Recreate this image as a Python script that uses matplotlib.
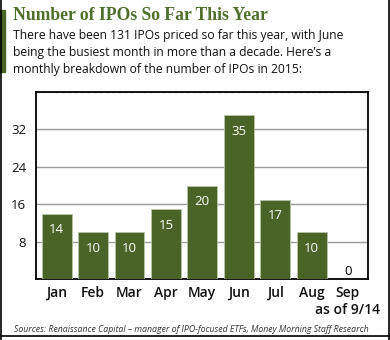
import matplotlib
matplotlib.use("Agg")
import matplotlib.pyplot as plt
from matplotlib.lines import Line2D
from matplotlib.patches import Rectangle

months = ["Jan", "Feb", "Mar", "Apr", "May", "Jun", "Jul", "Aug", "Sep"]
ipos = [14, 10, 10, 15, 20, 35, 17, 10, 0]
yticks = [8, 16, 24, 32]

GREEN = "#4a6428"
TITLE_GREEN = "#4f6f2c"

fig = plt.figure(figsize=(3.9, 3.4), dpi=100)
W, H = 390, 340

def fx(x):
    return x / W

def fy(y):
    return 1 - y / H

# outer frame (left, right, bottom)
fig.add_artist(Line2D([fx(0.5), fx(0.5)], [fy(0), fy(339.5)], color="black", lw=1.2))
fig.add_artist(Line2D([fx(388.5), fx(388.5)], [fy(0), fy(339.5)], color="black", lw=1.2))
fig.add_artist(Line2D([fx(0.5), fx(388.5)], [fy(336), fy(336)], color="black", lw=1.2))
# green side bar
fig.add_artist(Rectangle((fx(0), fy(72)), fx(5), (72 - 10) / H, color=GREEN, transform=fig.transFigure))

fig.text(fx(13), fy(16), "Number of IPOs So Far This Year", family="Liberation Serif",
         weight="bold", fontsize=12.7, color=TITLE_GREEN, va="center", ha="left")
body = ["There have been 131 IPOs priced so far this year, with June",
        "being the busiest month in more than a decade. Here\u2019s a",
        "monthly breakdown of the number of IPOs in 2015:"]
for i, line in enumerate(body):
    fig.text(fx(13), fy(35 + 17.5 * i), line, family="Open Sans", fontsize=8.75,
             color="#111111", va="center", ha="left")

ax = fig.add_axes([fx(36), fy(279), fx(368 - 36), (279 - 92) / H])
x = list(range(len(months)))
bars = ax.bar(x, ipos, width=0.82, color=GREEN, edgecolor="#b9c6a6", linewidth=0.6, zorder=3)
ax.set_xlim(-0.57, 8.55)
ax.set_ylim(0, 40)
ax.set_yticks(yticks)
ax.set_yticklabels([str(v) for v in yticks], family="Open Sans", fontsize=9.5, color="#111111")
ax.tick_params(axis="y", length=0, pad=7)
ax.set_xticks([])
for v in yticks:
    ax.axhline(v, color="#9a9a9a", lw=1.0, zorder=1)
ax.axhline(40, color="#bbbbbb", lw=1.0, ls=(0, (3, 1.5)), zorder=1)
for s in ax.spines.values():
    s.set_color("black")
    s.set_linewidth(1.3)

for xi, v in zip(x, ipos):
    if v > 0:
        ax.text(xi, v - 3.5, str(v), ha="center", va="center", color="white",
                family="Open Sans", fontsize=9.5, zorder=4)
    else:
        ax.text(xi, 1.7, str(v), ha="center", va="center", color="black",
                family="Open Sans", fontsize=9.5, zorder=4)

for xi, m in zip(x, months):
    ax.text(xi, -1.5, m, ha="center", va="top", color="#111111", family="Open Sans",
            fontsize=10, weight="semibold", transform=ax.transData, clip_on=False)

fig.text(fx(380), fy(310), "as of 9/14", family="Open Sans", fontsize=10, weight="semibold",
         color="#111111", ha="right", va="center")
fig.text(fx(14), fy(329), "Sources: Renaissance Capital \u2013 manager of IPO-focused ETFs, Money Morning Staff Research",
         family="Open Sans", fontsize=6.3, style="italic", color="#333333", ha="left", va="center")

fig.savefig("out.png", dpi=100)
